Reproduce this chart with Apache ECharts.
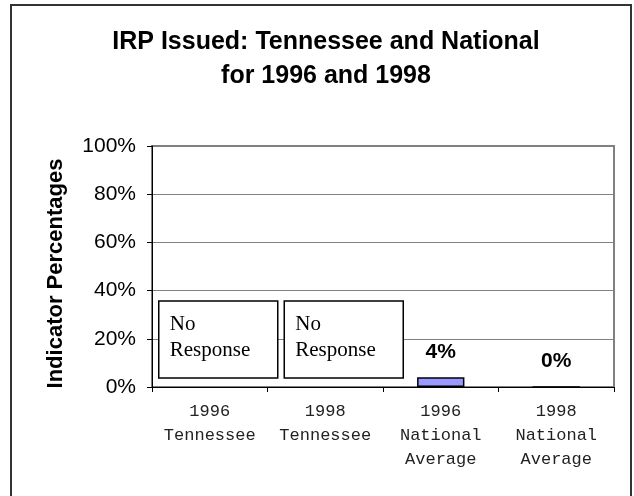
<!DOCTYPE html>
<html><head><meta charset="utf-8">
<script src="https://cdn.jsdelivr.net/npm/echarts@6/dist/echarts.min.js"></script>
<style>html,body{margin:0;padding:0;background:#fff}#c{width:634px;height:496px}</style>
</head><body><div id="c"></div>
<script>
var categories = ['1996\nTennessee', '1998\nTennessee', '1996\nNational\nAverage', '1998\nNational\nAverage'];
var values = [null, null, 4, 0];
var noResponse = [[0, 'No\nResponse'], [1, 'No\nResponse']];
var yTicks = [0, 20, 40, 60, 80, 100];

var boxDx = [-51, -41];
var chart = echarts.init(document.getElementById('c'), null, {renderer: 'canvas'});
chart.setOption({
  animation: false,
  backgroundColor: '#fff',
  title: {
    text: 'IRP Issued: Tennessee and National\nfor 1996 and 1998',
    left: 321, top: 20, textAlign: 'center',
    textStyle: {fontFamily: 'Liberation Sans', fontWeight: 'bold', fontSize: 25, lineHeight: 34, color: '#000'}
  },
  graphic: [{type: 'rect', shape: {x: 11, y: 5, width: 620, height: 495}, style: {fill: 'none', stroke: '#333', lineWidth: 2}, z: -1}],
  grid: {left: 152, right: 20, top: 146, bottom: 109, show: true, borderColor: '#808080', borderWidth: 2, backgroundColor: 'transparent'},
  xAxis: {
    type: 'category', data: categories,
    axisLine: {lineStyle: {color: '#000', width: 1}},
    axisTick: {show: true, length: 5, lineStyle: {color: '#000'}},
    axisLabel: {fontFamily: 'Liberation Mono', fontSize: 17, lineHeight: 24, color: '#222', margin: 12, interval: 0}
  },
  yAxis: {
    type: 'value', min: 0, max: 100, interval: 20,
    name: 'Indicator Percentages', nameLocation: 'middle', nameGap: 85,
    nameTextStyle: {fontFamily: 'Liberation Sans', fontWeight: 'bold', fontSize: 22, color: '#000', padding: [0, 14, 0, 0]},
    axisLine: {show: true, lineStyle: {color: '#000', width: 1}},
    axisTick: {show: true, length: 5, lineStyle: {color: '#000'}},
    axisLabel: {fontFamily: 'Liberation Sans', fontSize: 21, color: '#000', margin: 16,
      formatter: function (v) { return yTicks.indexOf(v) >= 0 ? v + '%' : ''; }},
    splitLine: {show: true, lineStyle: {color: '#808080', width: 1}}
  },
  series: [{
    type: 'bar', data: values, barWidth: '41%',
    itemStyle: {color: '#9999FF', borderColor: '#000', borderWidth: 1.5},
    label: {show: true, position: 'top', distance: 15, formatter: '{c}%',
      fontFamily: 'Liberation Sans', fontWeight: 'bold', fontSize: 21, color: '#000'}
  }, {
    type: 'custom', data: noResponse, z: 5,
    renderItem: function (params, api) {
      var p = api.coord([api.value(0), 0]);
      var x = p[0] + boxDx[params.dataIndex];
      var top = p[1] - 86;
      return {type: 'group', children: [
        {type: 'rect', shape: {x: x, y: top, width: 119, height: 77},
          style: {fill: '#fff', stroke: '#000', lineWidth: 1.5}},
        {type: 'text', style: {text: noResponse[params.dataIndex][1], x: x + 11, y: top + 10,
          font: '21px "Liberation Serif"', lineHeight: 26, fill: '#000', verticalAlign: 'top', align: 'left'}}
      ]};
    }
  }]
});
</script></body></html>
